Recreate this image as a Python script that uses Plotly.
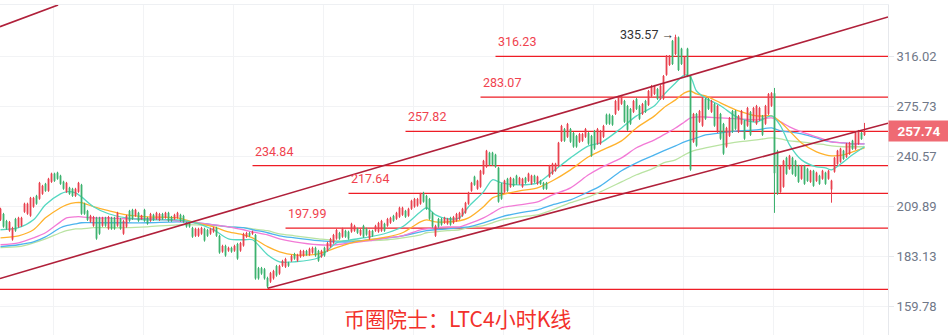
import numpy as np
import plotly.graph_objects as go

# ---------------- data (LTC 4h candles) ----------------
opens = [
 202.5,205.8,201.9,196.6,191.9,203.0,198.8,199.3,207.0,205.9,
 204.8,209.9,216.2,214.5,217.4,223.4,219.2,224.6,229.7,230.3,
 228.4,224.7,218.6,221.0,220.4,216.2,218.6,222.8,211.6,207.5,
 201.5,199.3,203.6,203.6,199.3,203.6,197.7,203.6,203.6,199.3,
 203.0,195.0,198.8,207.5,208.1,204.8,206.4,202.9,208.1,203.6,
 202.0,205.3,203.1,202.5,205.8,203.7,206.4,204.1,203.1,203.7,
 205.3,204.7,200.8,200.8,198.1,193.9,193.9,195.0,197.6,197.0,
 195.0,196.1,198.1,193.8,185.7,188.6,186.2,187.6,186.2,189.6,
 186.2,188.8,193.4,195.4,195.0,194.3,177.5,177.5,177.0,172.8,
 171.1,172.6,178.5,174.9,178.7,178.2,180.0,181.2,184.5,181.2,
 183.2,183.7,186.0,184.2,185.2,187.6,186.0,183.2,187.6,186.2,
 188.3,190.3,192.4,195.4,193.4,196.5,196.0,196.1,196.6,197.6,
 194.5,199.2,197.6,192.4,196.5,196.6,196.1,196.6,200.3,199.3,
 200.9,204.7,203.1,204.2,205.3,207.5,204.8,208.7,209.9,210.5,
 211.6,218.0,216.2,214.4,206.4,193.9,203.0,203.0,200.9,200.4,
 203.6,200.9,202.0,203.1,204.8,206.5,211.6,219.2,227.8,220.4,
 221.6,229.6,234.0,243.2,243.2,241.9,233.4,223.4,218.6,226.5,
 221.6,226.5,228.4,223.4,221.6,227.1,225.2,223.4,228.4,223.4,
 225.3,224.0,224.0,227.7,229.6,231.5,234.6,251.1,259.4,254.0,
 259.4,256.6,254.5,250.6,251.3,254.0,256.6,254.5,258.0,249.3,
 249.3,254.0,269.8,269.8,268.8,270.4,273.4,277.9,280.1,276.3,
 274.0,271.9,281.6,276.3,270.4,280.1,277.1,283.9,285.5,289.4,
 281.7,281.7,300.8,309.0,330.0,318.3,333.1,323.0,300.8,323.0,
 299.8,250.6,270.3,264.6,261.8,281.6,281.6,271.9,277.8,257.5,
 270.3,263.0,247.3,254.7,272.5,272.5,257.5,263.2,265.2,261.8,
 271.7,265.3,263.2,266.0,268.8,263.2,270.4,276.4,286.0,244.3,
 218.6,221.6,239.9,232.7,239.9,237.9,234.7,226.5,234.7,232.8,
 224.6,231.5,225.2,228.4,226.5,230.3,226.5,220.0,230.9,235.9,
 237.2,244.5,240.4,242.4,251.3,245.7,249.1,256.8,255.2]
highs = [
 209.3,206.4,202.5,201.9,198.7,203.6,204.2,204.2,212.2,212.2,
 215.6,215.6,216.8,224.6,222.8,224.0,227.1,230.3,230.3,230.9,
 229.0,225.3,224.6,221.6,221.0,221.0,224.6,223.4,212.2,208.1,
 205.3,204.7,204.2,204.2,204.2,204.2,204.7,204.2,204.2,207.0,
 203.6,202.5,205.3,208.1,208.7,208.7,207.0,205.3,208.7,204.2,
 206.4,205.9,207.0,206.4,206.4,207.0,207.0,204.7,205.9,207.0,
 205.9,205.3,201.4,201.4,198.7,198.2,198.2,198.7,198.2,197.6,
 198.2,198.7,198.7,194.4,189.2,189.2,188.2,188.2,189.2,190.2,
 190.7,195.5,196.0,196.0,196.6,194.9,178.1,178.1,177.6,173.4,
 175.7,176.7,179.1,179.1,181.6,182.6,180.6,184.1,185.1,184.6,
 186.6,186.6,186.6,187.7,188.2,188.2,186.6,186.6,188.2,190.7,
 192.8,194.9,197.6,196.0,198.2,197.1,196.6,200.9,199.8,198.2,
 197.6,199.8,198.2,197.1,197.1,199.8,201.4,202.5,200.9,203.6,
 204.2,205.3,207.0,209.9,209.9,208.1,209.3,213.9,215.0,215.0,
 218.0,218.6,216.8,215.0,207.0,199.8,203.6,203.6,204.2,203.6,
 204.2,204.7,206.4,207.0,209.3,212.7,218.6,224.6,228.4,225.9,
 232.1,238.5,245.1,243.8,243.8,242.5,234.0,224.0,225.9,227.1,
 227.7,227.1,229.0,227.7,227.1,227.7,230.3,229.0,229.0,228.4,
 225.9,224.6,224.6,235.3,236.6,236.6,250.5,262.4,260.2,263.8,
 260.2,257.4,255.3,256.7,256.7,260.2,257.4,255.3,258.8,260.2,
 258.8,262.4,270.6,270.6,269.6,280.9,284.0,284.7,280.9,277.1,
 274.8,280.9,282.4,277.1,278.6,280.9,288.6,292.6,292.6,290.2,
 292.6,300.6,317.5,317.5,330.8,335.57,333.9,323.8,316.6,323.8,
 300.6,271.1,271.1,273.3,283.1,282.4,282.4,280.9,278.6,277.1,
 271.1,263.8,261.0,268.1,273.3,273.3,269.6,273.3,266.0,275.6,
 272.5,275.6,277.1,275.6,269.6,277.1,286.2,286.9,290.2,245.1,
 235.3,238.5,240.5,241.8,240.5,238.5,235.3,235.3,235.3,233.4,
 232.1,232.1,230.9,229.0,232.1,230.9,232.1,225.9,240.5,245.1,
 246.5,245.1,249.8,250.5,251.9,257.4,258.8,257.4,263.8]
lows = [
 201.9,198.2,197.1,196.0,191.3,196.0,198.2,198.7,206.4,205.3,
 204.2,209.3,211.0,213.9,216.8,218.6,218.6,224.0,224.6,225.9,
 222.8,219.8,218.0,216.8,215.6,215.6,218.0,205.3,205.3,201.9,
 200.9,198.7,191.8,194.4,198.7,198.7,197.1,197.1,197.1,198.7,
 197.1,194.4,198.2,201.4,202.5,204.2,201.4,202.5,201.4,199.8,
 201.4,201.9,202.5,201.9,202.5,203.1,201.4,201.4,202.5,203.1,
 201.4,200.9,198.2,198.2,192.8,193.3,193.3,194.4,190.8,193.3,
 194.4,195.5,193.3,184.6,185.1,183.1,185.6,185.1,185.6,181.6,
 185.6,188.2,192.8,193.3,194.4,172.0,172.0,174.3,172.0,168.0,
 170.5,172.0,173.4,174.3,178.1,177.6,178.1,180.6,181.6,180.6,
 182.6,183.1,183.6,183.6,184.6,183.1,180.6,182.6,183.1,185.6,
 187.7,189.7,191.8,191.8,192.8,192.8,191.8,195.5,196.0,194.9,
 193.9,192.8,193.9,191.8,193.3,196.0,195.5,196.0,196.0,198.7,
 200.3,201.4,202.5,203.6,204.7,203.6,204.2,208.1,209.3,209.9,
 211.0,212.2,208.1,202.5,198.2,193.3,198.2,199.3,200.3,199.8,
 199.3,200.3,201.4,202.5,204.2,205.9,211.0,218.6,222.2,219.8,
 221.0,229.0,233.4,234.7,234.7,233.4,212.2,213.9,218.0,218.6,
 221.0,221.6,222.8,222.8,221.0,223.4,224.6,222.8,224.0,222.8,
 222.8,219.8,219.8,227.1,229.0,230.9,234.0,250.5,250.5,253.2,
 249.8,246.5,246.5,249.8,250.5,253.2,248.5,240.5,245.1,248.5,
 248.5,253.2,262.4,262.4,261.7,269.6,272.6,277.1,263.8,258.1,
 262.4,271.1,273.3,266.0,269.6,271.1,276.3,283.1,284.7,280.9,
 280.9,280.9,300.0,308.2,309.0,317.5,303.9,309.0,300.0,298.9,
 231.5,249.8,247.2,263.8,261.0,266.0,273.3,271.1,261.0,256.7,
 251.9,241.8,246.5,253.9,256.7,258.8,256.7,262.4,251.9,261.0,
 254.6,264.5,262.4,265.2,254.6,262.4,269.6,275.6,206.4,216.8,
 218.0,221.0,229.0,232.1,229.0,227.7,224.0,225.9,222.8,224.6,
 224.0,221.6,224.6,222.8,225.9,222.8,225.9,212.2,230.3,235.3,
 236.6,238.5,239.8,241.8,245.1,245.1,248.5,251.9,254.6]
closes = [
 208.7,198.8,197.7,201.3,198.1,196.6,203.6,203.6,211.6,211.6,
 215.0,215.0,211.6,224.0,222.2,219.2,226.5,229.7,225.2,226.5,
 223.4,220.4,224.0,217.4,216.2,220.4,224.0,205.9,205.9,202.5,
 204.7,204.1,192.4,195.0,203.6,199.3,204.1,197.7,197.7,206.4,
 197.7,201.9,204.7,202.0,203.1,208.1,202.0,204.9,202.0,200.4,
 205.8,202.5,206.4,205.8,203.1,206.4,202.0,202.0,205.3,206.4,
 202.0,201.5,198.8,198.8,193.4,197.6,197.6,198.1,191.4,193.9,
 197.6,198.1,193.9,185.2,188.6,183.7,187.6,185.7,188.6,182.2,
 190.1,194.9,195.4,193.9,196.0,172.6,172.6,174.9,172.6,168.8,
 175.1,176.1,174.0,178.5,181.0,182.0,178.7,183.5,182.2,184.0,
 186.0,186.0,184.2,187.1,187.6,183.7,181.2,186.0,183.7,190.1,
 192.2,194.3,197.0,192.4,197.6,193.4,192.4,200.3,199.2,195.5,
 197.0,193.4,194.5,196.5,193.9,199.2,200.8,201.9,196.6,203.0,
 203.6,202.0,206.4,209.3,209.3,204.2,208.7,213.3,214.4,214.4,
 217.4,212.8,208.7,203.1,198.8,199.2,198.8,199.9,203.6,203.0,
 199.9,204.1,205.8,206.4,208.7,212.1,218.0,224.0,222.8,225.3,
 231.5,237.9,244.5,235.3,235.3,234.0,212.8,214.5,225.3,219.2,
 227.1,222.2,223.4,227.1,226.5,224.0,229.7,228.4,224.6,227.8,
 223.4,220.4,220.4,234.7,236.0,236.0,249.9,261.6,251.3,263.0,
 250.6,247.3,247.3,255.9,255.9,259.4,249.3,241.3,245.9,259.4,
 258.0,261.6,263.2,263.2,262.5,280.1,283.2,283.9,264.6,258.9,
 263.2,280.1,274.1,266.8,277.8,271.9,287.8,291.8,291.8,281.7,
 291.8,299.8,316.7,316.7,309.8,333.5,304.7,309.8,315.8,299.7,
 232.3,270.3,248.0,272.5,282.3,266.8,274.1,280.1,261.8,276.3,
 252.7,242.6,260.2,267.3,257.5,259.6,268.8,272.5,252.7,274.8,
 255.4,274.8,276.3,274.8,255.4,276.3,285.4,286.1,230.0,217.6,
 234.7,237.9,229.6,241.2,229.6,228.3,224.6,234.7,223.4,225.2,
 231.5,222.2,230.3,223.4,231.5,223.4,231.5,225.3,239.9,244.5,
 245.9,239.1,249.2,249.9,245.7,256.8,258.2,252.5,257.74]

# moving averages, read at sampled candles
ma_idx = [0,6,11,15,20,22,25,27,31,36,42,49,59,65,71,76,81,84,89,93,98,
          106,112,117,123,129,134,140,142,145,149,153,156,161,164,167,173,
          179,184,190,196,200,207,212,218,221,225,228,230,232,235,240,246,
          252,257,260,263,267,272,275,277,281,284,288]
ma_teal = [197.1,198.2,202.5,211.0,217.4,218.6,218.0,215.6,209.9,205.9,203.6,202.5,
           202.5,200.9,197.1,192.3,191.8,191.8,184.1,180.6,180.6,
           182.6,190.2,191.8,193.3,195.5,198.7,207.0,209.3,205.3,203.1,203.6,209.9,
           218.6,225.9,224.0,222.8,224.0,230.9,239.8,247.8,249.8,260.2,
           268.9,276.4,284.7,294.2,300.6,299.0,287.8,282.4,276.4,267.4,
           264.5,268.9,261.7,248.5,238.5,234.0,233.4,232.1,237.2,241.8,247.2]
ma_orange = [192.8,193.9,197.1,203.6,209.3,211.0,212.2,212.2,209.9,207.6,205.3,204.2,
             203.6,200.9,198.7,196.0,194.4,192.8,188.2,185.6,184.1,
             184.6,187.7,190.2,191.8,193.3,195.5,201.4,202.5,201.4,201.4,202.0,203.6,
             209.9,215.0,216.8,219.2,221.0,225.3,232.1,240.5,244.4,251.2,
             260.2,268.9,274.8,280.9,286.3,287.8,285.5,284.0,278.6,272.6,
             268.9,268.9,264.5,258.1,249.8,243.8,241.8,241.1,241.8,243.8,246.5]
ma_pink = [189.2,190.2,192.8,195.5,201.4,203.6,204.2,204.2,203.6,203.6,203.1,203.1,
           202.0,200.9,199.8,198.7,197.1,196.0,194.4,192.3,190.7,
           189.2,189.2,190.2,191.3,192.8,193.9,197.1,197.6,198.2,198.7,198.7,200.3,
           203.6,206.4,209.3,211.0,212.7,216.8,221.0,229.0,233.4,239.8,
           246.5,251.9,255.3,260.2,264.5,267.4,268.1,268.1,267.4,266.7,
           266.0,267.4,264.5,261.0,257.4,253.9,251.9,250.5,249.8,249.2,249.2]
ma_blue = [188.2,189.2,190.7,193.3,198.2,199.3,200.3,200.9,200.9,200.9,200.9,200.9,
           201.4,200.9,199.8,198.7,198.2,197.1,195.5,193.9,192.8,
           191.3,190.7,190.7,191.8,192.8,193.9,196.0,196.6,197.1,197.6,198.2,198.7,
           200.9,202.5,204.2,206.4,208.1,211.0,213.9,218.6,222.2,231.5,
           236.6,241.8,244.4,247.8,250.5,251.9,253.2,255.3,256.7,258.1,
           258.8,260.2,258.1,257.4,256.0,253.2,251.2,250.5,249.8,249.2,249.2]
ma_green = [187.7,188.2,190.2,192.3,195.5,196.6,197.6,197.6,198.2,198.2,198.2,198.7,
            199.8,199.8,199.3,198.7,198.2,197.6,196.6,194.9,193.9,
            192.3,191.3,191.3,191.3,191.8,192.8,194.4,195.5,196.0,196.6,197.1,198.2,
            199.3,200.9,202.5,204.2,205.3,208.1,212.2,215.6,218.6,224.6,
            229.0,233.4,236.6,238.5,241.8,243.8,245.1,246.5,248.5,250.5,
            251.9,253.2,252.6,251.2,250.5,249.2,248.5,247.8,247.2,247.2,247.2]

# support / resistance levels drawn on the chart
levels = [316.23, 283.07, 257.82, 234.84, 217.64, 197.99]
level_start = [165, 160, 135, 84, 116, 95]
base_level = 167.5

# trend channel (candle index, price)
upper_x, upper_y = [-0.17, 295.83], [172.56, 352.13]
lower_x, lower_y = [89.07, 295.83], [168.02, 263.53]
steep_x, steep_y = [-0.17, 19.2], [343.0, 363.9]

ytick_vals = [159.78, 183.13, 209.89, 240.57, 275.73, 316.02]
xgrid_vals = [17.6, 47.6, 77.6, 107.6, 137.6, 167.6, 197.6, 227.6, 257.6, 287.6]

title_text = "币圈院士：LTC4小时K线"

# ---------------- figure ----------------
X_MIN, X_MAX = -0.17, 295.83
RED, GREEN = "#E8424F", "#3DB26F"
LEVEL_RED = "#EE1C25"
CHANNEL = "#B0203A"

fig = go.Figure()


def segments(ids, a, b):
    xs, ys = [], []
    for i in ids:
        xs += [i, i, None]
        ys += [a[i], b[i], None]
    return xs, ys

n = len(closes)
up = [i for i in range(n) if closes[i] >= opens[i]]
dn = [i for i in range(n) if closes[i] < opens[i]]

# horizontal levels
for lv, st in zip(levels, level_start):
    fig.add_trace(go.Scatter(x=[st, X_MAX], y=[lv, lv], mode="lines",
                             line=dict(color=LEVEL_RED, width=1.3), hoverinfo="skip"))
fig.add_trace(go.Scatter(x=[X_MIN, X_MAX], y=[base_level, base_level], mode="lines",
                         line=dict(color=LEVEL_RED, width=1.3), hoverinfo="skip"))

# moving averages
for vals, col in [(ma_green, "#B9E3A2"), (ma_blue, "#4CB4EE"), (ma_pink, "#F27AD6"),
                  (ma_orange, "#FFB22C"), (ma_teal, "#55D8C1")]:
    fig.add_trace(go.Scatter(x=ma_idx, y=vals, mode="lines",
                             line=dict(color=col, width=1.3, shape="spline", smoothing=0.8),
                             hoverinfo="skip"))

# candles
for ids, col in [(up, RED), (dn, GREEN)]:
    wx, wy = segments(ids, lows, highs)
    fig.add_trace(go.Scatter(x=wx, y=wy, mode="lines", line=dict(color=col, width=1),
                             hoverinfo="skip"))
    bx, by = segments(ids, opens, closes)
    fig.add_trace(go.Scatter(x=bx, y=by, mode="lines", line=dict(color=col, width=1.8),
                             hoverinfo="skip"))

# channel lines
for xs, ys in [(upper_x, upper_y), (lower_x, lower_y), (steep_x, steep_y)]:
    fig.add_trace(go.Scatter(x=xs, y=ys, mode="lines", line=dict(color=CHANNEL, width=1.6),
                             hoverinfo="skip"))

ann = []
for lv, st in zip(levels, level_start):
    ann.append(dict(x=st, y=np.log10(lv), xref="x", yref="y", text=f"{lv:.2f}",
                    showarrow=False, xanchor="left", yanchor="bottom", xshift=0, yshift=5,
                    font=dict(family="Roboto", size=12.5, color="#F0424E")))

imax = int(np.argmax(highs))
ann.append(dict(x=imax, y=np.log10(highs[imax]), xref="x", yref="y",
                text=f"{highs[imax]:.2f} →", showarrow=False, xanchor="right",
                yanchor="middle", xshift=0, font=dict(family="Roboto", size=12.5, color="#333333")))

ann.append(dict(x=1, y=np.log10(closes[-1]), xref="paper", yref="y",
                text=f"<b>{closes[-1]:.2f}</b>", showarrow=False, xanchor="left",
                yanchor="middle", bgcolor="#EF6A73", width=56, height=16, borderpad=2,
                font=dict(family="Roboto", size=13.5, color="#FFFFFF")))

ann.append(dict(x=0.515, y=0.052, xref="paper", yref="paper", text=title_text,
                showarrow=False, xanchor="center", yanchor="middle",
                font=dict(family="Noto Sans CJK SC", size=21, color="#F2302B")))

fig.update_layout(
    width=948, height=335,
    margin=dict(l=0, r=60, t=5, b=0),
    paper_bgcolor="white", plot_bgcolor="white",
    showlegend=False,
    annotations=ann,
    xaxis=dict(range=[X_MIN, X_MAX], side="top", showline=True, linecolor="#EEF0F3",
               linewidth=1, tickvals=xgrid_vals, showticklabels=False, ticks="",
               showgrid=True, gridcolor="#F2F3F5", gridwidth=1, zeroline=False),
    yaxis=dict(type="log", range=[2.170015, 2.560964], side="right",
               tickvals=ytick_vals, ticktext=[f"{v:.2f}" for v in ytick_vals],
               showline=True, linecolor="#E6E8EC", linewidth=1,
               ticks="outside", ticklen=5, tickcolor="#E6E8EC",
               showgrid=True, gridcolor="#F2F3F5", gridwidth=1, zeroline=False,
               tickfont=dict(family="Roboto", size=13, color="#707888")),
)

fig.write_html("out.html")
